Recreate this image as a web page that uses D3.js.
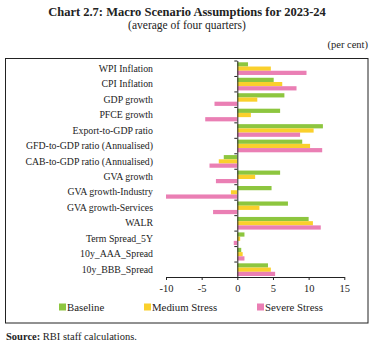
<!DOCTYPE html>
<meta charset="utf-8">
<head>
  <meta charset="utf-8">
  <title>Macro Scenario Assumptions</title>
</head>
<style>
body { margin: 0; background: #fff; }
text { font-family: 'Liberation Serif', serif; fill: #222; }
</style>
<body>
<div class='chart'></div>

<script src="https://cdn.jsdelivr.net/npm/d3@7"></script>
<script>

// Variables, scenario names and the three series (per cent)
var categories = ['WPI Inflation', 'CPI Inflation', 'GDP growth', 'PFCE growth',
  'Export-to-GDP ratio', 'GFD-to-GDP ratio (Annualised)', 'CAB-to-GDP ratio (Annualised)',
  'GVA growth', 'GVA growth-Industry', 'GVA growth-Services', 'WALR',
  'Term Spread_5Y', '10y_AAA_Spread', '10y_BBB_Spread']
var scenarios = ['Baseline', 'Medium Stress', 'Severe Stress']
var baseline = [1.5, 5.1, 6.6, 6.0, 12.0, 9.1, -1.9, 6.0, 4.8, 7.1, 10.0, 1.0, 0.55, 4.3]
var mediumStress = [4.7, 6.3, 2.8, 1.9, 10.7, 10.2, -2.6, 2.5, -0.9, 3.1, 10.6, 0.4, 0.75, 4.7]
var severeStress = [9.7, 8.3, -3.2, -4.5, 8.8, 11.9, -3.9, -3.0, -10.0, -3.4, 11.7, -0.5, 1.0, 5.3]
var xTicks = [-10, -5, 0, 5, 10, 15]

var colors = ['#8dc63f', '#fad02c', '#ea7fb4']
var series = [baseline, mediumStress, severeStress]

var width = 374
var height = 346

var svg = d3.select('.chart')
    .append('svg')
    .attr('width', width)
    .attr('height', height)

// titles
svg.append('text')
    .attr('x', 187).attr('y', 16)
    .attr('text-anchor', 'middle')
    .style('font-weight', 'bold').style('font-size', '12.5px')
    .text('Chart 2.7: Macro Scenario Assumptions for 2023-24')
svg.append('text')
    .attr('x', 187).attr('y', 29)
    .attr('text-anchor', 'middle')
    .style('font-size', '11.5px')
    .text('(average of four quarters)')
svg.append('text')
    .attr('x', 368).attr('y', 48)
    .attr('text-anchor', 'end')
    .style('font-size', '10.5px')
    .text('(per cent)')

// frame around the plot
svg.append('rect')
    .attr('x', 5.5).attr('y', 58.5)
    .attr('width', 362.5).attr('height', 264.5)
    .attr('fill', 'none').attr('stroke', '#222').attr('stroke-width', 1)

var x = d3.scaleLinear().domain([-10, 15]).range([166, 344.3])

var y = d3.scaleBand()
    .domain(categories)
    .range([60.5, 277])

var inner = d3.scaleBand()
    .domain(d3.range(3))
    .range([0, y.bandwidth()])
    .paddingOuter(0.33)
    .paddingInner(0)

// bars
series.forEach(function (vals, s) {
  svg.append('g').selectAll('rect')
      .data(vals)
      .enter().append('rect')
      .attr('x', function (d) { return x(Math.min(0, d)) })
      .attr('y', function (d, i) { return y(categories[i]) + inner(s) + 0.4 })
      .attr('width', function (d) { return Math.abs(x(d) - x(0)) })
      .attr('height', inner.bandwidth())
      .attr('fill', colors[s])
})

// x axis
var xAxis = svg.append('g')
    .attr('transform', 'translate(0,' + y.range()[1] + ')')
    .call(d3.axisBottom(x).tickValues(xTicks).tickSize(3).tickSizeOuter(0).tickFormat(d3.format('d')))
xAxis.select('.domain').attr('stroke', '#222')
xAxis.selectAll('line').attr('stroke', '#222')
xAxis.selectAll('text')
    .style('font-size', '10.5px')
    .style('font-family', "'Liberation Serif', serif")
    .attr('fill', '#222')
    .attr('dy', '0.9em')
    .text(function (d) { return d < 0 ? '-' + Math.abs(d) : d })

// y axis with ticks between categories
var yEdges = d3.scaleLinear().domain([0, categories.length]).range(y.range())
var yAxis = svg.append('g')
    .attr('transform', 'translate(' + x(0) + ',0)')
    .call(d3.axisLeft(yEdges).tickValues(d3.range(categories.length + 1)).tickSize(3).tickSizeOuter(0).tickFormat(''))
yAxis.select('.domain').attr('stroke', '#222')
yAxis.selectAll('line').attr('stroke', '#222')

// category labels
svg.append('g').selectAll('text')
    .data(categories)
    .enter().append('text')
    .attr('x', 153)
    .attr('y', function (d) { return y(d) + y.bandwidth() / 2 + 3.5 })
    .attr('text-anchor', 'end')
    .style('font-size', '9.8px')
    .text(function (d) { return d })

// legend
var legendX = [59, 144, 257]
var legend = svg.append('g').selectAll('g')
    .data(scenarios)
    .enter().append('g')
    .attr('transform', function (d, i) { return 'translate(' + legendX[i] + ',303.5)' })
legend.append('rect')
    .attr('width', 7).attr('height', 7)
    .attr('fill', function (d, i) { return colors[i] })
legend.append('text')
    .attr('x', 8).attr('y', 7)
    .style('font-size', '10.8px')
    .text(function (d) { return d })

// source note
var src = svg.append('text')
    .attr('x', 6).attr('y', 340)
    .style('font-size', '10.5px')
src.append('tspan').style('font-weight', 'bold').text('Source: ')
src.append('tspan').text('RBI staff calculations.')

</script>
</body>
